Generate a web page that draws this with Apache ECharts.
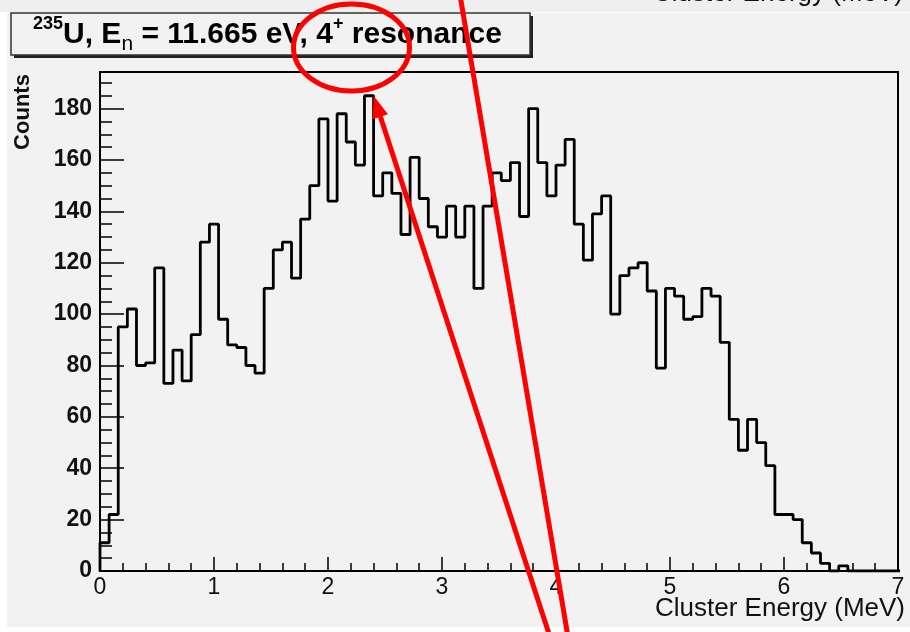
<!DOCTYPE html>
<html>
<head>
<meta charset="utf-8">
<script src="https://cdn.jsdelivr.net/npm/echarts@6/dist/echarts.min.js"></script>
<style>
  html, body { margin: 0; padding: 0; background: #ffffff; }
  #chart { width: 910px; height: 632px; }
</style>
</head>
<body>
<div id="chart"></div>
<script>
// Cluster energy spectrum, 0.08 MeV bins starting at 0 MeV
const binWidth = 0.08;
const counts = [
  11, 22, 95, 102, 80, 81, 118, 73, 86, 74,
  92, 128, 135, 98, 88, 87, 80, 77, 110, 125,
  128, 114, 137, 150, 176, 144, 178, 167, 158, 185,
  146, 155, 147, 131, 161, 145, 134, 130, 142, 130,
  142, 110, 142, 155, 152, 159, 138, 180, 159, 146,
  158, 168, 135, 121, 139, 146, 100, 115, 118, 120,
  109, 79, 110, 107, 98, 99, 110, 107, 89, 59,
  47, 59, 50, 41, 22, 22, 20, 11, 7, 3,
  0, 2, 0, 0, 0, 0, 0, 0
];
const xTicks = [0, 1, 2, 3, 4, 5, 6, 7];
const yMajorTicks = [0, 20, 40, 60, 80, 100, 120, 140, 160, 180];
const yMinorTicks = [5, 10, 15, 25, 30, 35, 45, 50, 55, 65, 70, 75, 85, 90, 95,
  105, 110, 115, 125, 130, 135, 145, 150, 155, 165, 170, 175, 185, 190];
const yMax = 194.25;
const xTitle = 'Cluster Energy (MeV)';
const yTitle = 'Counts';

// step outline: one point per bin's left edge, closed at the last edge
const outline = [[0, 0]];
counts.forEach((c, i) => outline.push([i * binWidth, c]));
outline.push([counts.length * binWidth, counts[counts.length - 1]]);

let peakIdx = 0;
counts.forEach((c, i) => { if (c > counts[peakIdx]) peakIdx = i; });

const chart = echarts.init(document.getElementById('chart'), null, { renderer: 'canvas' });

const FONT = 'Liberation Sans, Arial, Helvetica, sans-serif';

chart.setOption({
  animation: false,
  backgroundColor: '#f2f2f2',
  grid: {
    left: 100, right: 12, top: 72, bottom: 61,
    containLabel: false, outerBoundsMode: 'none',
    show: true, borderColor: '#000', borderWidth: 2, backgroundColor: 'transparent'
  },
  xAxis: {
    type: 'value', min: 0, max: 7, interval: 1,
    axisLine: { lineStyle: { color: '#000', width: 2 } },
    axisTick: { inside: true, length: 14, customValues: xTicks, lineStyle: { color: '#000', width: 1.5 } },
    minorTick: { show: true, splitNumber: 5, length: 8, lineStyle: { color: '#000', width: 1.5 } },
    splitLine: { show: false },
    axisLabel: { customValues: xTicks, fontFamily: FONT, fontSize: 23, color: '#111', margin: 5 }
  },
  yAxis: [
    {
      type: 'value', min: 0, max: yMax, position: 'left',
      axisLine: { show: true, lineStyle: { color: '#000', width: 2 } },
      axisTick: { show: true, inside: true, length: 24, customValues: yMajorTicks, lineStyle: { color: '#000', width: 1.5 } },
      splitLine: { show: false },
      axisLabel: { customValues: yMajorTicks, fontFamily: FONT, fontWeight: 'bold', fontSize: 23, color: '#111', margin: 8 }
    },
    {
      type: 'value', min: 0, max: yMax, position: 'left', offset: 0,
      axisLine: { show: false },
      axisTick: { show: true, inside: true, length: 12, customValues: yMinorTicks, lineStyle: { color: '#000', width: 1.5 } },
      splitLine: { show: false },
      axisLabel: { show: false }
    }
  ],
  series: [{
    type: 'line', step: 'end', symbol: 'none', clip: true,
    xAxisIndex: 0, yAxisIndex: 0,
    lineStyle: { color: '#000', width: 2.8 },
    data: outline
  }]
});

// arrow aimed at the top right corner of the tallest bin
const tip = chart.convertToPixel({ seriesIndex: 0 }, [(peakIdx + 1) * binWidth, counts[peakIdx]]);
const tail = [551, 640];
const len = Math.hypot(tip[0] - tail[0], tip[1] - tail[1]);
const ux = (tip[0] - tail[0]) / len, uy = (tip[1] - tail[1]) / len;
const headLen = 22, headHalf = 8;
const base = [tip[0] - ux * headLen, tip[1] - uy * headLen];
const px = -uy, py = ux;

chart.setOption({
  graphic: [
    // strip of the panel above and white page margins
    { type: 'rect', z: 1, shape: { x: 0, y: 0, width: 910, height: 12 }, style: { fill: '#efefef' } },
    { type: 'rect', z: 1, shape: { x: 0, y: 12, width: 910, height: 1 }, style: { fill: '#ffffff' } },
    { type: 'rect', z: 1, shape: { x: 0, y: 12, width: 7, height: 620 }, style: { fill: '#ffffff' } },
    { type: 'rect', z: 1, shape: { x: 0, y: 627, width: 910, height: 5 }, style: { fill: '#ffffff' } },
    { type: 'text', z: 2, x: 903, y: -6, style: { text: xTitle, font: '26px ' + FONT, fill: '#111', align: 'right', verticalAlign: 'middle' } },
    // x-axis title
    { type: 'text', z: 5, x: 905, y: 609, style: { text: xTitle, font: '26px ' + FONT, fill: '#111', align: 'right', verticalAlign: 'middle' } },
    // title pave with shadow
    { type: 'rect', z: 3, shape: { x: 14, y: 16, width: 519, height: 42 }, style: { fill: '#222' } },
    { type: 'rect', z: 4, shape: { x: 11, y: 13, width: 519, height: 42 }, style: { fill: '#f2f2f2', stroke: '#333', lineWidth: 1.5 } },
    {
      type: 'text', z: 5, x: 33, y: 35,
      style: {
        text: '{sup|235}{main|U, E}{sub|n}{main| = 11.665 eV, 4}{sup|+}{main| resonance}',
        verticalAlign: 'middle', align: 'left',
        rich: {
          main: { fontFamily: FONT, fontWeight: 'bold', fontSize: 30, lineHeight: 40, fill: '#000', verticalAlign: 'middle' },
          sup: { fontFamily: FONT, fontWeight: 'bold', fontSize: 18, lineHeight: 15, fill: '#000', verticalAlign: 'top' },
          sub: { fontFamily: FONT, fontSize: 21, lineHeight: 14, fill: '#000', verticalAlign: 'bottom' }
        }
      }
    },
    // y-axis title
    { type: 'text', z: 5, x: 23, y: 112, rotation: Math.PI / 2,
      style: { text: yTitle, font: 'bold 22px ' + FONT, fill: '#111', align: 'center', verticalAlign: 'middle' } },
    // red markup
    { type: 'ellipse', z: 20, shape: { cx: 351.5, cy: 47.5, rx: 58, ry: 43.5 },
      style: { fill: 'none', stroke: '#ff0000', lineWidth: 5 } },
    { type: 'line', z: 20, shape: { x1: 460, y1: -5, x2: 568, y2: 637 },
      style: { stroke: '#ff0000', lineWidth: 5 } },
    { type: 'line', z: 20, shape: { x1: tail[0], y1: tail[1], x2: base[0] + ux * 2, y2: base[1] + uy * 2 },
      style: { stroke: '#ff0000', lineWidth: 5 } },
    { type: 'polygon', z: 20,
      shape: { points: [tip, [base[0] + px * headHalf, base[1] + py * headHalf], [base[0] - px * headHalf, base[1] - py * headHalf]] },
      style: { fill: '#ff0000' } }
  ]
});
</script>
</body>
</html>
